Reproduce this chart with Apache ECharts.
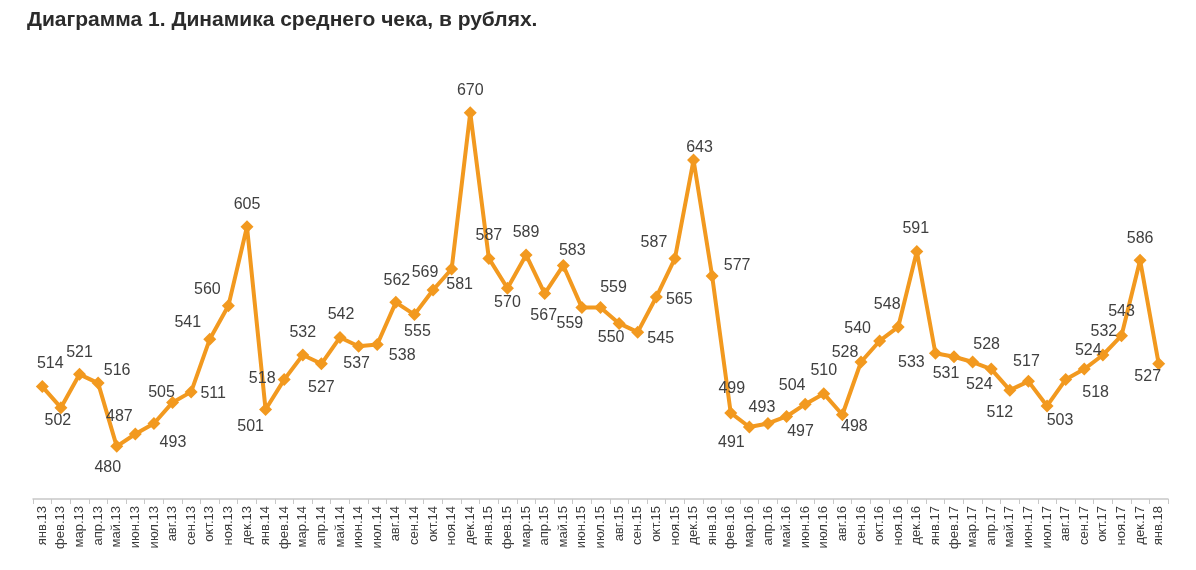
<!DOCTYPE html>
<html>
<head>
<meta charset="utf-8">
<title>Динамика среднего чека</title>
<script src="https://cdn.jsdelivr.net/npm/echarts@6/dist/echarts.min.js"></script>
<style>
  html, body { margin: 0; padding: 0; background: #fff; }
  #main { width: 1196px; height: 570px; }
</style>
</head>
<body>
<div id="main"></div>
<script>
// месяцы и средний чек, руб.
var months = [
  'янв.13','фев.13','мар.13','апр.13','май.13','июн.13','июл.13','авг.13','сен.13','окт.13','ноя.13','дек.13',
  'янв.14','фев.14','мар.14','апр.14','май.14','июн.14','июл.14','авг.14','сен.14','окт.14','ноя.14','дек.14',
  'янв.15','фев.15','мар.15','апр.15','май.15','июн.15','июл.15','авг.15','сен.15','окт.15','ноя.15','дек.15',
  'янв.16','фев.16','мар.16','апр.16','май.16','июн.16','июл.16','авг.16','сен.16','окт.16','ноя.16','дек.16',
  'янв.17','фев.17','мар.17','апр.17','май.17','июн.17','июл.17','авг.17','сен.17','окт.17','ноя.17','дек.17',
  'янв.18'
];
var avgCheck = [
  514, 502, 521, 516, 480, 487, 493, 505, 511, 541, 560, 605,
  501, 518, 532, 527, 542, 537, 538, 562, 555, 569, 581, 670,
  587, 570, 589, 567, 583, 559, 559, 550, 545, 565, 587, 643,
  577, 499, 491, 493, 497, 504, 510, 498, 528, 540, 548, 591,
  533, 531, 528, 524, 512, 517, 503, 518, 524, 532, 543, 586,
  527
];

// смещения подписей относительно точки (чтобы не налезали друг на друга)
var labelShift = [
  [8,-23],[-3,13],[0,-22],[19,-13],[-9,21],[-16,-17],[19,19],[-11,-10],[22,2],[-22,-17],[-21,-16],[0,-22],
  [-15,17],[-22,-1],[0,-22],[0,24],[1,-23],[-2,17],[25,11],[1,-22],[3,17],[-8,-17],[8,16],[0,-22],
  [0,-23],[0,14],[0,-22],[-1,22],[9,-15],[-12,16],[13,-20],[-8,14],[23,6],[23,3],[-21,-16],[6,-12],
  [25,-10],[1,-24],[-18,16],[-6,-16],[14,15],[-13,-19],[0,-23],[12,12],[-16,-9],[-22,-12],[-11,-22],[-1,-23],
  [-24,9],[-8,17],[14,-17],[-12,16],[-10,22],[-2,-20],[13,15],[30,13],[4,-18],[1,-23],[0,-24],[0,-22],
  [-11,13]
];

var myChart = echarts.init(document.getElementById('main'));

var seriesData = avgCheck.map(function (v, i) {
  return {
    value: v,
    label: { offset: labelShift[i] }
  };
});

var option = {
  animation: false,
  backgroundColor: '#fff',
  title: {
    text: 'Диаграмма 1. Динамика среднего чека, в рублях.',
    left: 22,
    top: 5,
    textStyle: {
      fontFamily: 'Liberation Sans, Arial, sans-serif',
      fontSize: 21,
      fontWeight: 'bold',
      color: '#2b2b2b'
    }
  },
  grid: { left: 33, right: 28, top: 60, bottom: 71 },
  xAxis: {
    type: 'category',
    data: months,
    boundaryGap: true,
    axisLine: { lineStyle: { color: '#c8c8c8', width: 1.5 } },
    axisTick: { show: true, length: 5, lineStyle: { color: '#c8c8c8' } },
    axisLabel: {
      interval: 0,
      rotate: 90,
      margin: 7,
      fontFamily: 'Liberation Sans, Arial, sans-serif',
      fontSize: 13,
      color: '#3a3a3a'
    }
  },
  yAxis: {
    type: 'value',
    min: 450,
    max: 700,
    show: false
  },
  series: [{
    name: 'Средний чек',
    type: 'line',
    data: seriesData,
    symbol: 'diamond',
    symbolSize: 13,
    lineStyle: { color: '#F2991F', width: 4 },
    itemStyle: { color: '#F2991F' },
    label: {
      show: true,
      position: 'inside',
      fontFamily: 'Liberation Sans, Arial, sans-serif',
      fontSize: 16,
      color: '#404040'
    }
  }]
};

myChart.setOption(option);
</script>
</body>
</html>
